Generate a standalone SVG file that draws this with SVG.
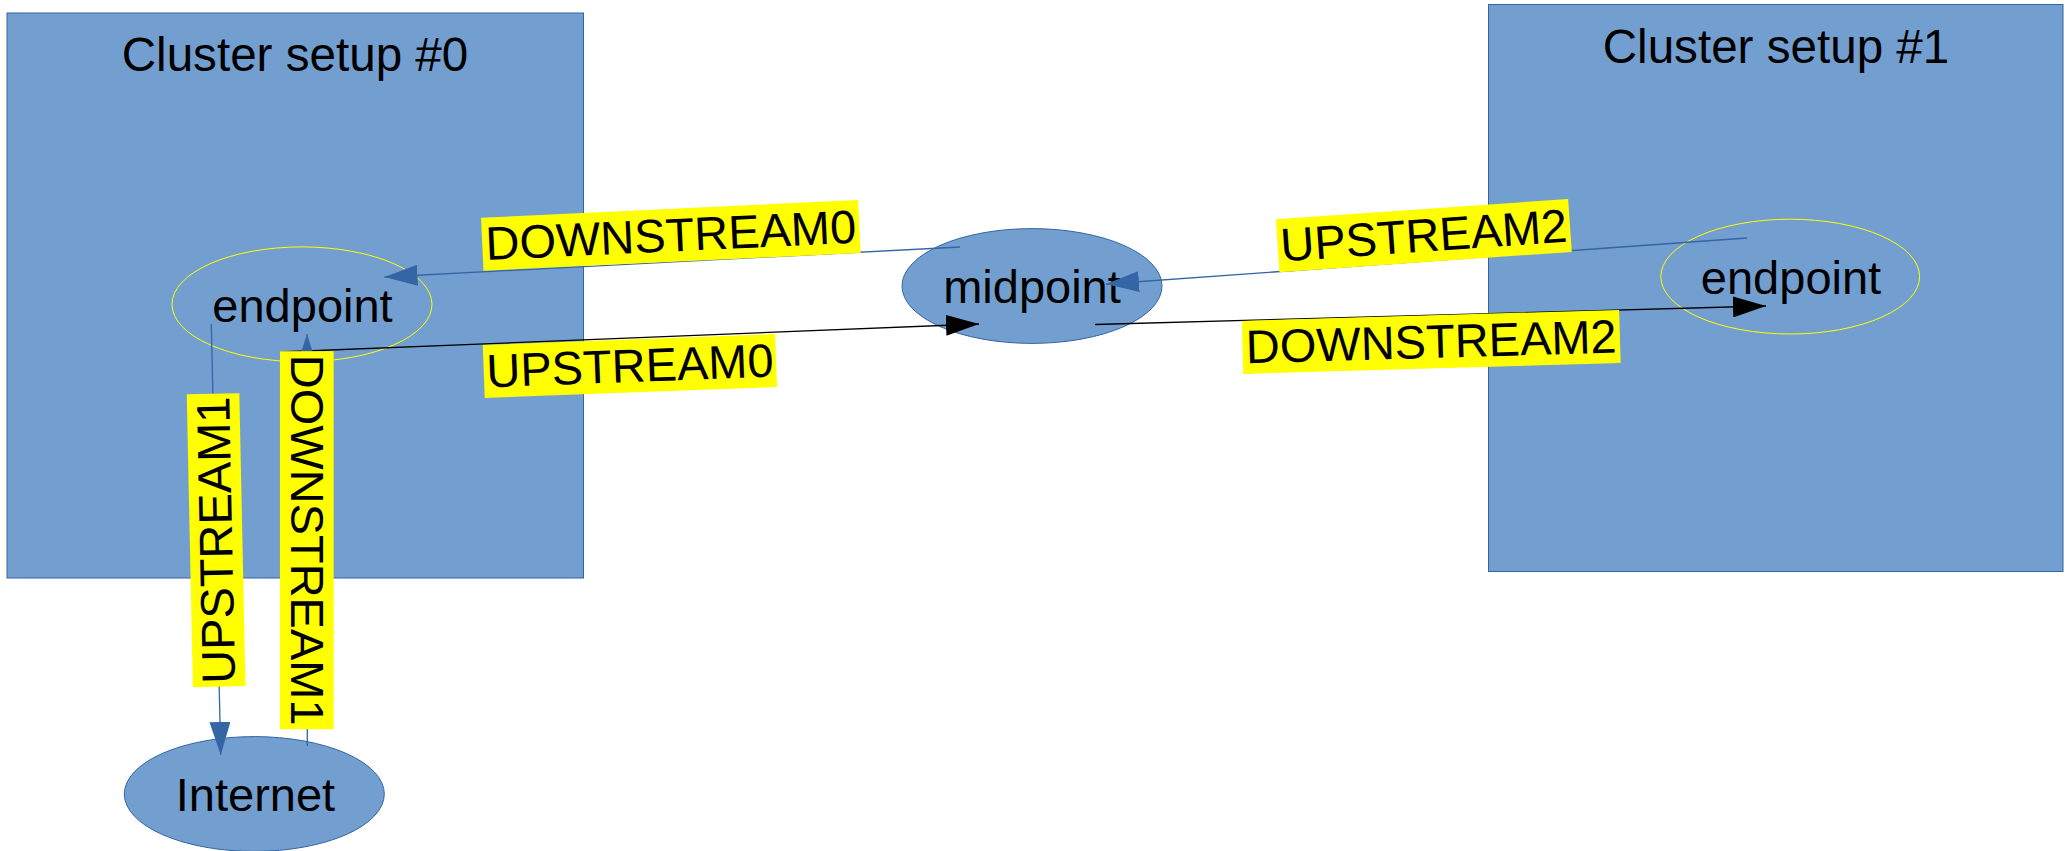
<svg xmlns="http://www.w3.org/2000/svg" width="2070" height="851" viewBox="0 0 2070 851">
<style>
.cluster{fill:#729fcf;stroke:#3465a4;stroke-width:1}
.node{fill:#729fcf;stroke:#3465a4;stroke-width:1}
.ep{fill:none;stroke:#ffff00;stroke-width:1}
.t{font-family:"Liberation Sans",Arial,sans-serif;font-size:47px;fill:#000;text-anchor:middle}
.title{font-size:47.6px}
.blue{stroke:#3465a4;stroke-width:1.3;fill:none}
.black{stroke:#000;stroke-width:1.3;fill:none}
.lbl rect{fill:#ffff00}
</style>
<defs>
<marker id="ab" viewBox="0 0 33 21" refX="33" refY="10.5" markerWidth="33" markerHeight="21" markerUnits="userSpaceOnUse" orient="auto"><path d="M0,0 L33,10.5 L0,21 z" fill="#3465a4"/></marker>
<marker id="ak" viewBox="0 0 33 21" refX="33" refY="10.5" markerWidth="33" markerHeight="21" markerUnits="userSpaceOnUse" orient="auto"><path d="M0,0 L33,10.5 L0,21 z" fill="#000"/></marker>
</defs>
<rect width="2070" height="851" fill="#fff"/>
<g id="cluster0">
<rect class="cluster" x="7" y="13" width="576.5" height="565"/>
<text class="t title" x="295" y="71">Cluster setup #0</text>
</g>
<g id="cluster1">
<rect class="cluster" x="1488.5" y="4.5" width="574.5" height="567"/>
<text class="t title" x="1776" y="62.5">Cluster setup #1</text>
</g>
<g id="endpoint0">
<ellipse class="ep" cx="302" cy="304.3" rx="130" ry="57.4"/>
<text class="t" x="302.5" y="321.5">endpoint</text>
</g>
<g id="midpoint">
<ellipse class="node" cx="1032" cy="286" rx="130" ry="57.4"/>
<text class="t" x="1032" y="302.5">midpoint</text>
</g>
<g id="endpoint1">
<ellipse class="ep" cx="1790.2" cy="276.6" rx="129.4" ry="57.4"/>
<text class="t" x="1791" y="293.5">endpoint</text>
</g>
<g id="internet">
<ellipse class="node" cx="254.3" cy="794" rx="130" ry="57.4"/>
<text class="t" x="255.5" y="810.5">Internet</text>
</g>
<g id="connectors">
<line class="blue" x1="960" y1="247" x2="384.5" y2="277" marker-end="url(#ab)"/>
<line class="black" x1="280" y1="352" x2="979" y2="324" marker-end="url(#ak)"/>
<line class="blue" x1="1747" y1="238" x2="1106" y2="284" marker-end="url(#ab)"/>
<line class="black" x1="1095" y1="324.5" x2="1766" y2="306" marker-end="url(#ak)"/>
<line class="blue" x1="211.3" y1="324" x2="220.7" y2="755" marker-end="url(#ab)"/>
<line class="blue" x1="307.3" y1="746" x2="307" y2="334" marker-end="url(#ab)"/>
<g class="lbl" transform="translate(670.8,235.4) rotate(-2.69)"><rect x="-188.75" y="-26.5" width="377.5" height="53"/><text class="t" x="0" y="16">DOWNSTREAM0</text></g>
<g class="lbl" transform="translate(629.9,366) rotate(-2.16)"><rect x="-146.25" y="-26.5" width="292.5" height="53"/><text class="t" x="0" y="16">UPSTREAM0</text></g>
<g class="lbl" transform="translate(1431.2,341.9) rotate(-1.67)"><rect x="-188.75" y="-26.5" width="377.5" height="53"/><text class="t" x="0" y="16">DOWNSTREAM2</text></g>
<g class="lbl" transform="translate(1423.8,235.6) rotate(-3.97)"><rect x="-146.5" y="-26.5" width="293" height="53"/><text class="t" x="0" y="16">UPSTREAM2</text></g>
<g class="lbl" transform="translate(216.1,540.2) rotate(-91.2)"><rect x="-146.5" y="-26.3" width="293" height="52.6"/><text class="t" x="0" y="16">UPSTREAM1</text></g>
<g class="lbl" transform="translate(306.8,540.2) rotate(90)"><rect x="-189" y="-26.85" width="378" height="53.7"/><text class="t" x="0" y="16">DOWNSTREAM1</text></g>
</g>
</svg>
